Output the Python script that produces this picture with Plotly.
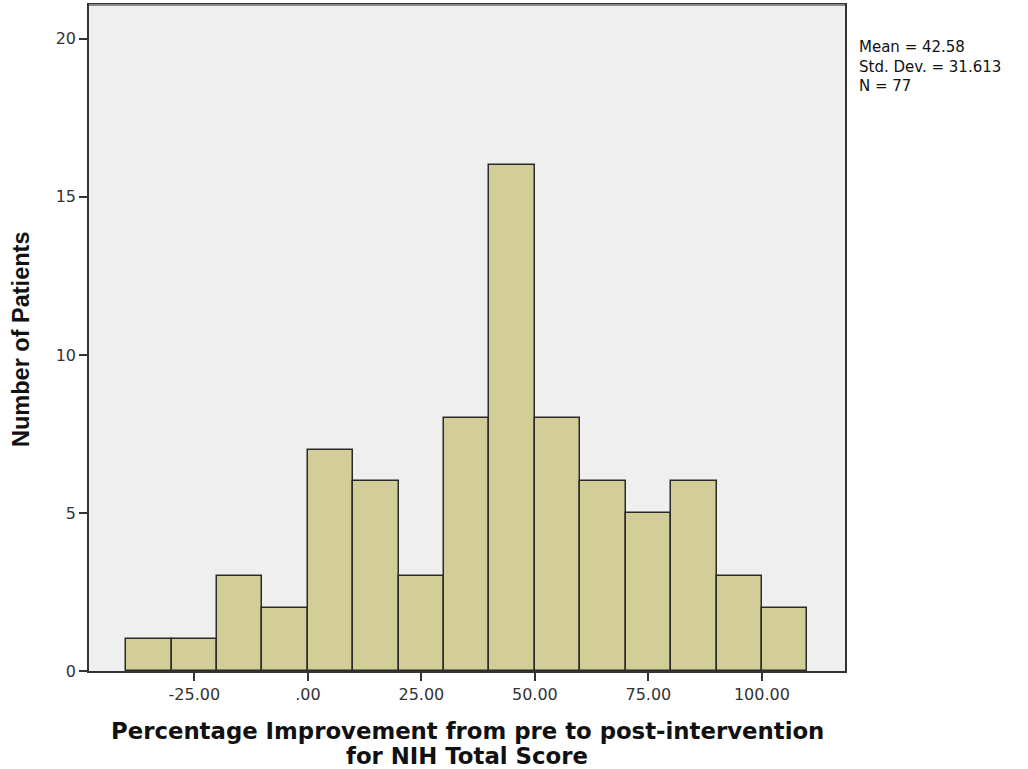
import plotly.graph_objects as go

bin_left = [-40, -30, -20, -10, 0, 10, 20, 30, 40, 50, 60, 70, 80, 90, 100]
counts = [1, 1, 3, 2, 7, 6, 3, 8, 16, 8, 6, 5, 6, 3, 2]
bin_width = 10
x_tickvals = [-25, 0, 25, 50, 75, 100]
x_ticktext = ["-25.00", ".00", "25.00", "50.00", "75.00", "100.00"]
y_tickvals = [0, 5, 10, 15, 20]
stats_lines = ["Mean = 42.58", "Std. Dev. = 31.613", "N = 77"]
x_title_lines = ["Percentage Improvement from pre to post-intervention", "for NIH Total Score"]
y_title = "Number of Patients"

centers = [b + bin_width / 2 for b in bin_left]

# plot area in pixels
L, R, T, B = 89, 845, 5, 671
W, H = R - L, B - T


def py(ypx):
    return (B - ypx) / H


def px(xpx):
    return (xpx - L) / W


fig = go.Figure()
fig.add_trace(go.Bar(
    x=centers, y=counts, width=[bin_width] * len(counts),
    marker=dict(color="#D3CE98", line=dict(color="#2a2a2a", width=1.5)),
    showlegend=False,
))

annotations = [dict(
    text="<br>".join(stats_lines), xref="paper", yref="paper", x=px(857), y=py(36),
    xanchor="left", yanchor="top", align="left", showarrow=False,
    font=dict(family="DejaVu Sans, Verdana, sans-serif", size=15, color="#111"))]
for line, ypix in zip(x_title_lines, [731, 756]):
    annotations.append(dict(
        text="<b>" + line + "</b>", xref="paper", yref="paper", x=0.5, y=py(ypix),
        xanchor="center", yanchor="middle", showarrow=False,
        font=dict(family="DejaVu Sans, Verdana, sans-serif", size=22.8, color="#111")))
annotations.append(dict(
    text="<b>" + y_title + "</b>", xref="paper", yref="paper",
    x=px(21), y=py(340), xanchor="center", yanchor="middle", textangle=-90,
    showarrow=False,
    font=dict(family="Liberation Sans, Arial, sans-serif", size=23.5, color="#111")))

tickfont = dict(family="DejaVu Sans, Verdana, sans-serif", size=16, color="#333")

fig.update_layout(
    width=1028, height=769,
    margin=dict(l=L, r=1028 - R, t=T, b=769 - B, autoexpand=False),
    paper_bgcolor="white", plot_bgcolor="#EFEFEF",
    font=dict(family="Liberation Sans, Arial, sans-serif", size=16, color="#333"),
    bargap=0,
    xaxis=dict(
        range=[-48.2, 118.3], tickvals=x_tickvals, ticktext=x_ticktext,
        ticks="outside", ticklen=8, tickwidth=1.5, tickcolor="#333",
        showline=True, linecolor="#333", linewidth=1.5, mirror=True,
        showgrid=False, zeroline=False, tickfont=tickfont,
    ),
    yaxis=dict(
        range=[0, 21.07], tickvals=y_tickvals,
        ticks="outside", ticklen=8, tickwidth=1.5, tickcolor="#333",
        showline=True, linecolor="#333", linewidth=1.5, mirror=True,
        showgrid=False, zeroline=False, tickfont=tickfont,
    ),
    annotations=annotations,
    shapes=[
        dict(type="line", xref="paper", yref="paper", x0=0, x1=1, y0=1, y1=1,
             line=dict(color="#888", width=2), layer="above"),
    ],
)

fig.write_html("out.html", config={"displayModeBar": False},
               post_script="document.body.style.margin='0';")
